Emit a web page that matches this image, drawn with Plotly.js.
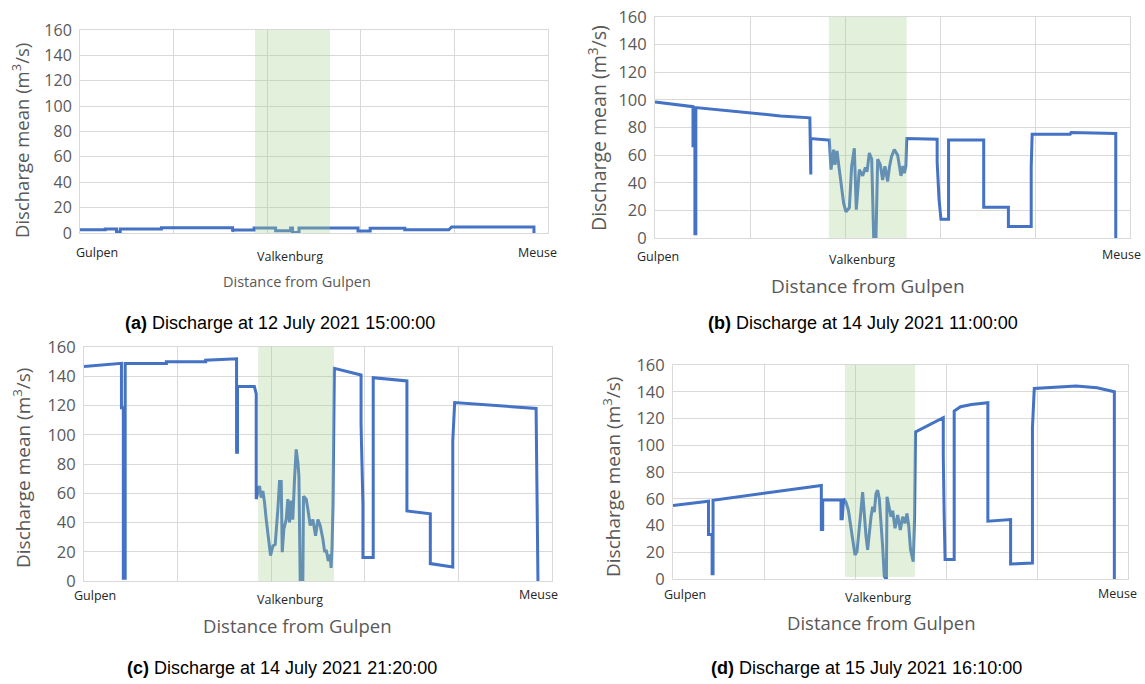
<!DOCTYPE html>
<html>
<head>
<meta charset="utf-8">
<script src="https://cdn.plot.ly/plotly-3.0.1.min.js"></script>
<style>html,body{margin:0;padding:0;background:#fff;}#chart{width:1145px;height:684px;}</style>
</head>
<body>
<div id="chart"></div>
<script>
// ---- Data (x in distance units from Gulpen, gridline every 1 unit; y = discharge m3/s) ----
const categoryLabels = ["Gulpen", "Valkenburg", "Meuse"];
const captionIds = ["(a)", "(b)", "(c)", "(d)"];
const captionTexts = ["Discharge at 12 July 2021 15:00:00", "Discharge at 14 July 2021 11:00:00",
                      "Discharge at 14 July 2021 21:20:00", "Discharge at 15 July 2021 16:10:00"];
const yTickVals = [0, 20, 40, 60, 80, 100, 120, 140, 160];

// Valkenburg zone (green band) per panel, in x units
const bandA = [1.87, 2.67];
const bandB = [1.83, 2.65];
const bandC = [1.86, 2.67];
const bandD = [1.89, 2.66];

// (a) 12 July 2021 15:00
const aX = [0, 0.27, 0.27, 0.39, 0.39, 0.43, 0.43, 0.87, 0.87, 1.63, 1.63, 1.64, 1.86, 1.86, 2.09, 2.09, 2.25, 2.25, 2.27, 2.27, 2.34, 2.34, 2.97, 2.97, 3.10, 3.10, 3.47, 3.47, 3.94, 3.97, 4.85, 4.85];
const aY = [2.5, 2.5, 3.2, 3.2, 0.8, 0.8, 3.2, 3.2, 4.2, 4.2, 1.2, 2.3, 2.3, 4.0, 4.0, 1.8, 1.8, 4.0, 4.0, 0.3, 0.3, 4.0, 4.0, 1.5, 1.5, 3.8, 3.8, 2.6, 2.6, 4.8, 4.8, 0];

// (b) 14 July 2021 11:00
const bX = [0, 0.40, 0.40, 0.42, 0.42, 0.43, 0.43, 0.86, 1.32, 1.63, 1.64, 1.64, 1.82, 1.835, 1.853, 1.88, 1.894, 1.916, 1.94, 1.986, 2.01, 2.046, 2.07, 2.098, 2.119, 2.151, 2.186, 2.214, 2.232, 2.256, 2.281, 2.302, 2.326, 2.344, 2.372, 2.396, 2.42, 2.449, 2.467, 2.49, 2.519, 2.554, 2.589, 2.61, 2.625, 2.64, 2.65, 2.97, 2.97, 2.99, 3.01, 3.09, 3.09, 3.46, 3.46, 3.72, 3.72, 3.96, 3.96, 3.97, 4.37, 4.38, 4.85, 4.85];
const bY = [98.5, 95.1, 66.8, 66.8, 3, 3, 94.4, 91.3, 88.4, 87.0, 46, 72, 71, 71, 49.5, 64, 53, 63, 49.5, 25, 19, 22, 52, 65, 20.5, 49.5, 45, 51, 48, 61.6, 57, 0, 0, 57, 53, 42, 52, 41, 51, 59, 64, 60, 45, 52, 47, 52, 72, 71.5, 55, 28, 13.5, 13.5, 71, 71, 22.3, 22.3, 8.4, 8.4, 51, 75.2, 75.2, 76.4, 75.7, 0];

// (c) 14 July 2021 21:20
const cX = [0, 0.07, 0.40, 0.40, 0.42, 0.42, 0.44, 0.44, 0.88, 0.88, 1.30, 1.30, 1.63, 1.63, 1.64, 1.64, 1.82, 1.84, 1.84, 1.875, 1.893, 1.911, 1.929, 1.947, 1.975, 1.993, 2.018, 2.043, 2.071, 2.089, 2.107, 2.118, 2.135, 2.16, 2.178, 2.196, 2.214, 2.231, 2.249, 2.267, 2.285, 2.296, 2.31, 2.338, 2.345, 2.374, 2.392, 2.417, 2.445, 2.474, 2.499, 2.523, 2.552, 2.57, 2.59, 2.61, 2.63, 2.64, 2.65, 2.66, 2.675, 2.96, 2.96, 2.98, 2.98, 3.09, 3.09, 3.45, 3.45, 3.70, 3.70, 3.94, 3.94, 3.96, 4.83, 4.85];
const cY = [146.6, 147, 148.8, 118.5, 118.5, 1.8, 1.8, 148.8, 148.8, 150, 150, 151, 152, 88, 88, 133, 133, 128, 56, 65, 57, 61.5, 53.6, 42, 28.7, 17.4, 24, 25, 49, 68, 68, 19.7, 35.5, 42, 56, 40, 55, 42, 69.5, 90, 81, 72, 0, 0, 58, 56, 49, 38, 42, 31, 42, 38, 28.7, 20.5, 20.5, 13.7, 18, 9, 22.8, 52, 145.4, 140.9, 107, 52.4, 16, 16, 139, 136.8, 47.9, 46, 11.9, 9.6, 95.7, 122, 118, 0];

// (d) 15 July 2021 16:10
const dX = [0, 0.39, 0.39, 0.43, 0.43, 0.44, 0.44, 1.62, 1.63, 1.63, 1.645, 1.645, 1.846, 1.846, 1.86, 1.875, 1.90, 1.927, 1.956, 1.985, 2.0, 2.022, 2.048, 2.066, 2.084, 2.103, 2.121, 2.139, 2.158, 2.176, 2.194, 2.212, 2.231, 2.249, 2.267, 2.286, 2.304, 2.322, 2.34, 2.345, 2.352, 2.377, 2.396, 2.414, 2.44, 2.469, 2.498, 2.524, 2.549, 2.571, 2.59, 2.61, 2.625, 2.64, 2.655, 2.665, 2.97, 2.97, 2.98, 2.99, 3.09, 3.09, 3.16, 3.28, 3.46, 3.46, 3.71, 3.71, 3.95, 3.95, 3.97, 4.43, 4.66, 4.85, 4.85];
const dY = [54.9, 58.2, 33.2, 33.2, 4, 4, 58.9, 69.9, 69.9, 37, 37, 59, 59, 45, 45, 60, 57.7, 51.5, 36.6, 21.8, 18, 20.5, 36.6, 51.5, 65, 46.5, 32, 21.8, 36.6, 46.5, 54, 50, 64, 66.3, 60, 44, 24, 2, 0, 0, 61.4, 52.7, 46.5, 51, 37.9, 47.8, 36.6, 46.5, 41.6, 49, 40, 22, 17, 13, 47, 110, 120.6, 92, 47, 14.5, 14.5, 125.6, 128.8, 130.5, 131.8, 43.2, 44.4, 11.2, 12, 113, 142.5, 144.3, 143, 140, 0];

// ---- Layout geometry (pixels in the 1145x684 page) ----
const W = 1145, H = 684;
const px = v => v / W;
const py = v => 1 - v / H;

const panels = [
  {x: aX, y: aY, band: bandA, bandBottom: -7, L: 80, R: 548, T: 30, B: 233,
   tickSize: 16, yTitle: {x: 21, y: 141, size: 18.5}, xTitle: {x: 297, y: 281, size: 14.5},
   labels: [{x: 97, y: 252}, {x: 290, y: 256}, {x: 537, y: 252}], cat: 12.5, caption: {x: 280, y: 323}},
  {x: bX, y: bY, band: bandB, bandBottom: 0, L: 655, R: 1130, T: 17, B: 238,
   tickSize: 16.5, yTitle: {x: 597, y: 128, size: 19.5}, xTitle: {x: 868, y: 286, size: 19},
   labels: [{x: 658, y: 256}, {x: 862, y: 259}, {x: 1121, y: 255}], cat: 12.5, caption: {x: 863, y: 323}},
  {x: cX, y: cY, band: bandC, bandBottom: 0, L: 84, R: 552, T: 347, B: 581,
   tickSize: 16.5, yTitle: {x: 22, y: 468, size: 19}, xTitle: {x: 297, y: 625, size: 18.5},
   labels: [{x: 95, y: 595}, {x: 290, y: 599}, {x: 538, y: 594}], cat: 12.5, caption: {x: 282, y: 668}},
  {x: dX, y: dY, band: bandD, bandBottom: 1.5, L: 673, R: 1128, T: 365, B: 579,
   tickSize: 16.5, yTitle: {x: 612, y: 477, size: 19}, xTitle: {x: 881, y: 622, size: 18.5},
   labels: [{x: 685, y: 594}, {x: 878, y: 597}, {x: 1117, y: 593}], cat: 12.5, caption: {x: 866, y: 668}}
];

const GRID = '#d9d9d9';
const GREY = '#595959';
const traces = [];
const shapes = [];
const annotations = [];
const layout = {
  width: W, height: H, margin: {l: 0, r: 0, t: 0, b: 0},
  paper_bgcolor: '#ffffff', plot_bgcolor: '#ffffff', showlegend: false,
  font: {family: 'Open Sans, Arial, sans-serif', color: GREY}
};

panels.forEach((p, i) => {
  const n = i === 0 ? '' : String(i + 1);
  traces.push({
    type: 'scatter', mode: 'lines', x: p.x, y: p.y,
    xaxis: 'x' + n, yaxis: 'y' + n,
    line: {color: '#4472c4', width: 3},
    hoverinfo: 'x+y'
  });
  layout['xaxis' + n] = {
    domain: [px(p.L), px(p.R)], range: [0, 5], tick0: 0, dtick: 1,
    showgrid: true, gridcolor: GRID, gridwidth: 1, zeroline: false,
    showline: true, linecolor: GRID, mirror: true, ticks: '', showticklabels: false,
    anchor: 'y' + n, fixedrange: true
  };
  layout['yaxis' + n] = {
    domain: [py(p.B), py(p.T)], range: [0, 160], tickvals: yTickVals,
    showgrid: true, gridcolor: GRID, gridwidth: 1, zeroline: false,
    showline: true, linecolor: GRID, mirror: true, ticks: '',
    tickfont: {family: 'Open Sans, Arial, sans-serif', size: p.tickSize, color: GREY},
    ticklabelstandoff: 4, anchor: 'x' + n, fixedrange: true
  };
  shapes.push({
    type: 'rect', xref: 'x' + n, yref: 'y' + n,
    x0: p.band[0], x1: p.band[1], y0: p.bandBottom, y1: 160,
    fillcolor: 'rgba(169,209,142,0.32)', line: {width: 0}, layer: 'above'
  });
  // y-axis title
  annotations.push({
    xref: 'paper', yref: 'paper', x: px(p.yTitle.x), y: py(p.yTitle.y),
    text: 'Discharge mean (m<sup>3</sup>/s)', textangle: -90, showarrow: false,
    xanchor: 'center', yanchor: 'middle',
    font: {family: 'Open Sans, Arial, sans-serif', size: p.yTitle.size, color: GREY}
  });
  // x-axis title
  annotations.push({
    xref: 'paper', yref: 'paper', x: px(p.xTitle.x), y: py(p.xTitle.y),
    text: 'Distance from Gulpen', showarrow: false, xanchor: 'center', yanchor: 'middle',
    font: {family: 'Open Sans, Arial, sans-serif', size: p.xTitle.size, color: GREY}
  });
  // category labels
  p.labels.forEach((lb, k) => {
    annotations.push({
      xref: 'paper', yref: 'paper', x: px(lb.x), y: py(lb.y),
      text: categoryLabels[k], showarrow: false, xanchor: 'center', yanchor: 'middle',
      font: {family: 'Open Sans, Arial, sans-serif', size: p.cat, color: '#262626'}
    });
  });
  // caption
  annotations.push({
    xref: 'paper', yref: 'paper', x: px(p.caption.x), y: py(p.caption.y),
    text: '<b>' + captionIds[i] + '</b> ' + captionTexts[i], showarrow: false,
    xanchor: 'center', yanchor: 'middle',
    font: {family: 'Liberation Sans, Arial, sans-serif', size: 18, color: '#000000'}
  });
});

layout.shapes = shapes;
layout.annotations = annotations;

Plotly.newPlot('chart', traces, layout, {displayModeBar: false, staticPlot: true});
</script>
</body>
</html>
